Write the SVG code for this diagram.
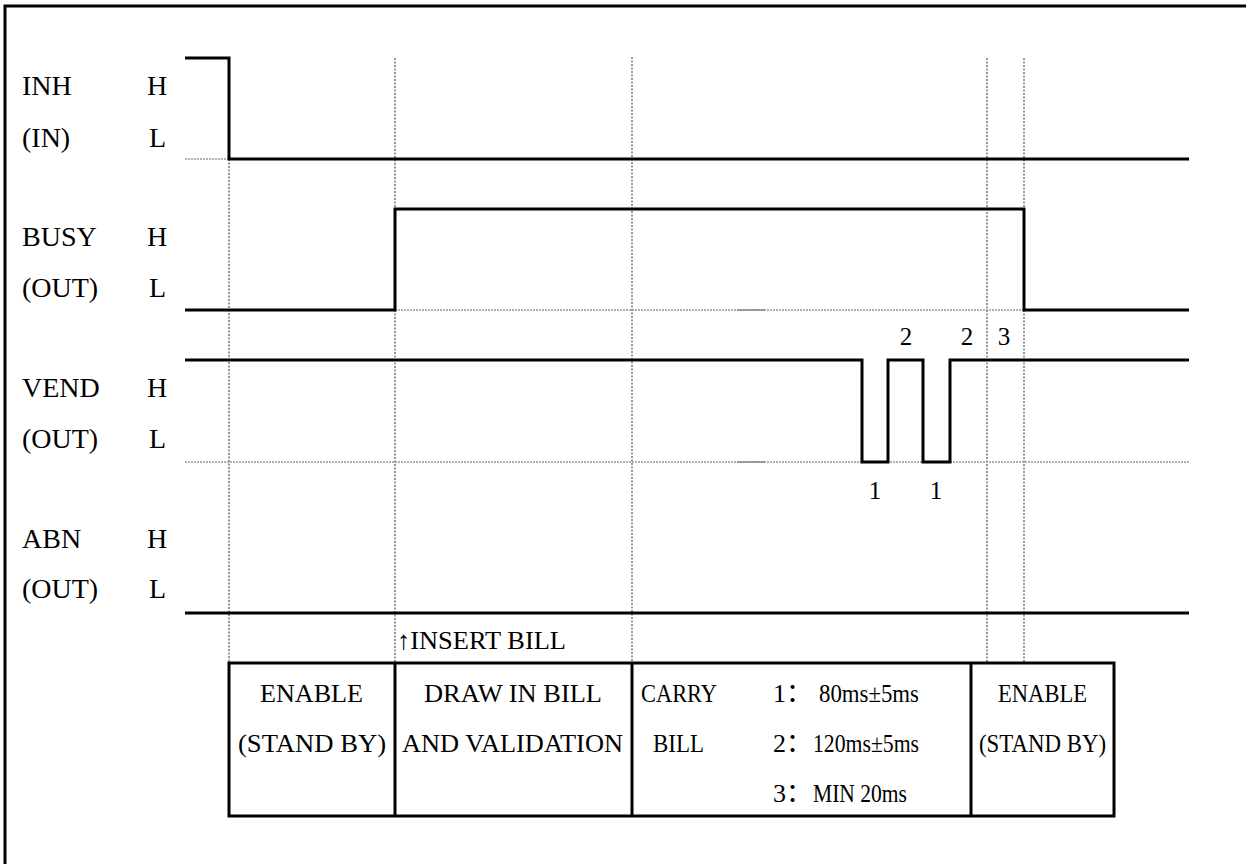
<svg xmlns="http://www.w3.org/2000/svg" width="1246" height="864" viewBox="0 0 1246 864">
<style>
text{font-family:"Liberation Serif","Times New Roman","Noto Sans CJK SC",serif;fill:#000}
.lbl{font-size:28px}
.tb{font-size:26px}
.num{font-size:25px;text-anchor:middle}
.sig{fill:none;stroke:#000;stroke-width:3}
.grid{fill:none;stroke:#777;stroke-width:1.5;stroke-dasharray:2,1.5}
.lo{fill:none;stroke:#999;stroke-width:1.5;stroke-dasharray:2,1}
.frame{fill:none;stroke:#000;stroke-width:3}
.cell{stroke:#000;stroke-width:3}
</style>
<rect width="1246" height="864" fill="#fff"/>
<path class="frame" d="M5,864 V6 H1246"/>
<g id="labels">
<text class="lbl" x="22" y="95">INH</text><text class="lbl" x="147" y="95">H</text>
<text class="lbl" x="22" y="147">(IN)</text><text class="lbl" x="149" y="147">L</text>
<text class="lbl" x="22" y="246">BUSY</text><text class="lbl" x="147" y="246">H</text>
<text class="lbl" x="22" y="297">(OUT)</text><text class="lbl" x="149" y="297">L</text>
<text class="lbl" x="22" y="397">VEND</text><text class="lbl" x="147" y="397">H</text>
<text class="lbl" x="22" y="448">(OUT)</text><text class="lbl" x="149" y="448">L</text>
<text class="lbl" x="22" y="548">ABN</text><text class="lbl" x="147" y="548">H</text>
<text class="lbl" x="22" y="598">(OUT)</text><text class="lbl" x="149" y="598">L</text>
</g>
<g id="grid">
<line class="grid" x1="229" y1="159" x2="229" y2="663"/>
<line class="grid" x1="395" y1="58" x2="395" y2="663"/>
<line class="grid" x1="632" y1="57" x2="632" y2="663"/>
<line class="grid" x1="987" y1="58" x2="987" y2="663"/>
<line class="grid" x1="1024" y1="58" x2="1024" y2="663"/>
<line class="lo" x1="185" y1="159" x2="229" y2="159"/>
<line class="lo" x1="395" y1="310" x2="1023" y2="310"/>
<line class="lo" x1="185" y1="462" x2="1189" y2="462"/>
<line x1="737" y1="310" x2="765" y2="310" stroke="#888" stroke-width="1.5"/>
<line x1="737" y1="462" x2="765" y2="462" stroke="#888" stroke-width="1.5"/>
</g>
<g id="signals">
<path id="inh" class="sig" d="M185,58 H229 V159 H1189"/>
<path id="busy" class="sig" d="M185,310 H395 V209 H1024 V310 H1189"/>
<path id="vend" class="sig" d="M185,360 H862 V462 H888 V360 H923 V462 H950 V360 H1189"/>
<path id="abn" class="sig" d="M185,613 H1189"/>
</g>
<g id="pulse-labels">
<text class="num" x="906" y="345">2</text>
<text class="num" x="967" y="345">2</text>
<text class="num" x="1004" y="345">3</text>
<text class="num" x="875" y="499">1</text>
<text class="num" x="936" y="499">1</text>
</g>
<text class="tb" x="397" y="649" textLength="169" lengthAdjust="spacingAndGlyphs">↑INSERT BILL</text>
<g id="table">
<rect x="229" y="663" width="885" height="153" fill="none" class="cell"/>
<line class="cell" x1="395" y1="663" x2="395" y2="816"/>
<line class="cell" x1="632" y1="663" x2="632" y2="816"/>
<line class="cell" x1="971" y1="663" x2="971" y2="816"/>
<text class="tb" x="260" y="702" textLength="103" lengthAdjust="spacingAndGlyphs">ENABLE</text>
<text class="tb" x="238" y="752" textLength="148" lengthAdjust="spacingAndGlyphs">(STAND BY)</text>
<text class="tb" x="424" y="702" textLength="178" lengthAdjust="spacingAndGlyphs">DRAW IN BILL</text>
<text class="tb" x="402" y="752" textLength="221" lengthAdjust="spacingAndGlyphs">AND VALIDATION</text>
<text class="tb" x="641" y="702" textLength="76" lengthAdjust="spacingAndGlyphs">CARRY</text>
<text class="tb" x="653" y="752" textLength="51" lengthAdjust="spacingAndGlyphs">BILL</text>
<text class="tb" x="773" y="702">1：<tspan x="819" textLength="100" lengthAdjust="spacingAndGlyphs">80ms±5ms</tspan></text>
<text class="tb" x="773" y="752">2：<tspan x="813" textLength="106" lengthAdjust="spacingAndGlyphs">120ms±5ms</tspan></text>
<text class="tb" x="773" y="802">3：<tspan x="813" textLength="94" lengthAdjust="spacingAndGlyphs">MIN 20ms</tspan></text>
<text class="tb" x="998" y="702" textLength="89" lengthAdjust="spacingAndGlyphs">ENABLE</text>
<text class="tb" x="979" y="752" textLength="127" lengthAdjust="spacingAndGlyphs">(STAND BY)</text>
</g>
</svg>
